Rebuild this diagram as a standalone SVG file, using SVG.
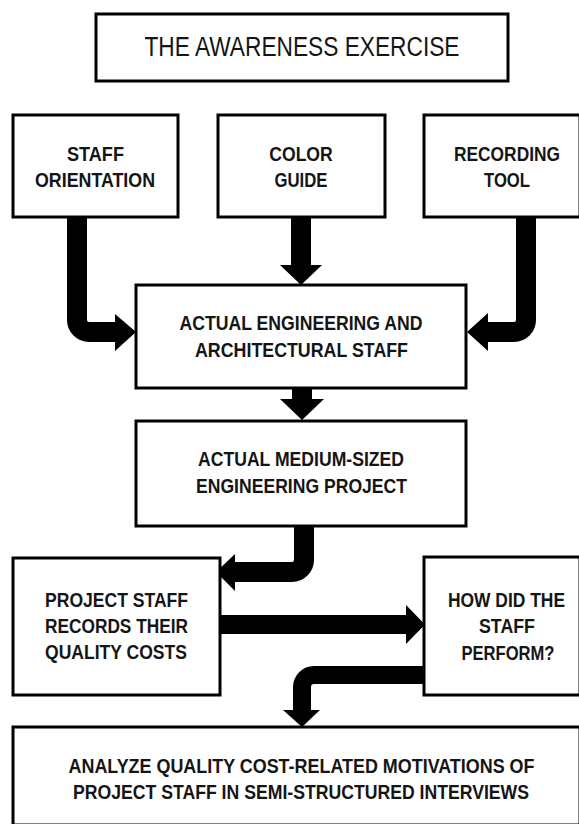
<svg xmlns="http://www.w3.org/2000/svg" width="579" height="824" viewBox="0 0 579 824">
<style>
.box{fill:#fff;stroke:#000;stroke-width:3}
.t{font-family:"Liberation Sans",Arial,sans-serif;font-weight:bold;font-size:21px;fill:#151515;text-anchor:middle}
.title{font-family:"Liberation Sans",Arial,sans-serif;font-size:27px;fill:#151515;text-anchor:middle}
.bar{fill:none;stroke:#000;stroke-width:20}
.head{fill:#000}
</style>
<rect width="579" height="824" fill="#fff"/>
<g id="connectors">
<path class="bar" d="M77,217 V320 A12,12 0 0 0 89,332 H117"/>
<polygon class="head" points="115,314 136,332 115,351"/>
<path class="bar" d="M301,217 V267"/>
<polygon class="head" points="280,265 322,265 301,285"/>
<path class="bar" d="M526,217 V320 A12,12 0 0 1 514,332 H486"/>
<polygon class="head" points="488,313 467,332 488,351"/>
<path class="bar" d="M302,388 V401"/>
<polygon class="head" points="280,399 324,399 302,420"/>
<path class="bar" d="M304,526 V560 A12,12 0 0 1 292,572 H233"/>
<polygon class="head" points="235,554 216,572 235,591"/>
<rect x="220" y="615" width="188" height="19" fill="#000"/>
<polygon class="head" points="406,605 425,624.5 406,644"/>
<path class="bar" style="stroke-width:18" d="M424,675 H314 A12,12 0 0 0 302,687 V712"/>
<polygon class="head" points="283,710 320,710 302,727"/>
</g>
<g id="title">
<rect class="box" x="96" y="14" width="412" height="67"/>
<text class="title" x="302" y="56" textLength="315" lengthAdjust="spacingAndGlyphs">THE AWARENESS EXERCISE</text>
</g>
<g id="staff-orientation">
<rect class="box" x="13" y="115" width="165" height="102"/>
<text class="t" x="95.5" y="161" textLength="57" lengthAdjust="spacingAndGlyphs">STAFF</text>
<text class="t" x="95" y="187" textLength="120" lengthAdjust="spacingAndGlyphs">ORIENTATION</text>
</g>
<g id="color-guide">
<rect class="box" x="218" y="115" width="167" height="102"/>
<text class="t" x="301" y="161" textLength="63.5" lengthAdjust="spacingAndGlyphs">COLOR</text>
<text class="t" x="301" y="187" textLength="53" lengthAdjust="spacingAndGlyphs">GUIDE</text>
</g>
<g id="recording-tool">
<rect class="box" x="424" y="115" width="156" height="102"/>
<text class="t" x="507" y="161" textLength="106" lengthAdjust="spacingAndGlyphs">RECORDING</text>
<text class="t" x="507" y="187" textLength="46" lengthAdjust="spacingAndGlyphs">TOOL</text>
</g>
<g id="engineering-staff">
<rect class="box" x="136" y="285" width="330" height="103"/>
<text class="t" x="301" y="330" textLength="243" lengthAdjust="spacingAndGlyphs">ACTUAL ENGINEERING AND</text>
<text class="t" x="301.5" y="357" textLength="213" lengthAdjust="spacingAndGlyphs">ARCHITECTURAL STAFF</text>
</g>
<g id="engineering-project">
<rect class="box" x="136" y="421" width="330" height="105"/>
<text class="t" x="301" y="466" textLength="206" lengthAdjust="spacingAndGlyphs">ACTUAL MEDIUM-SIZED</text>
<text class="t" x="301.5" y="493" textLength="211" lengthAdjust="spacingAndGlyphs">ENGINEERING PROJECT</text>
</g>
<g id="project-staff-records">
<rect class="box" x="13" y="558" width="207" height="137"/>
<text class="t" x="116.5" y="607" textLength="143" lengthAdjust="spacingAndGlyphs">PROJECT STAFF</text>
<text class="t" x="116.5" y="633" textLength="143" lengthAdjust="spacingAndGlyphs">RECORDS THEIR</text>
<text class="t" x="116" y="659" textLength="142" lengthAdjust="spacingAndGlyphs">QUALITY COSTS</text>
</g>
<g id="staff-perform">
<rect class="box" x="424" y="557" width="156" height="138"/>
<text class="t" x="506.5" y="607" textLength="117" lengthAdjust="spacingAndGlyphs">HOW DID THE</text>
<text class="t" x="507" y="633" textLength="56" lengthAdjust="spacingAndGlyphs">STAFF</text>
<text class="t" x="508" y="660" textLength="93" lengthAdjust="spacingAndGlyphs">PERFORM?</text>
</g>
<g id="analyze-motivations">
<rect class="box" x="13" y="727" width="567" height="98"/>
<text class="t" x="301.5" y="773" textLength="466" lengthAdjust="spacingAndGlyphs">ANALYZE QUALITY COST-RELATED MOTIVATIONS OF</text>
<text class="t" x="301" y="799" textLength="456" lengthAdjust="spacingAndGlyphs">PROJECT STAFF IN SEMI-STRUCTURED INTERVIEWS</text>
</g>
</svg>
